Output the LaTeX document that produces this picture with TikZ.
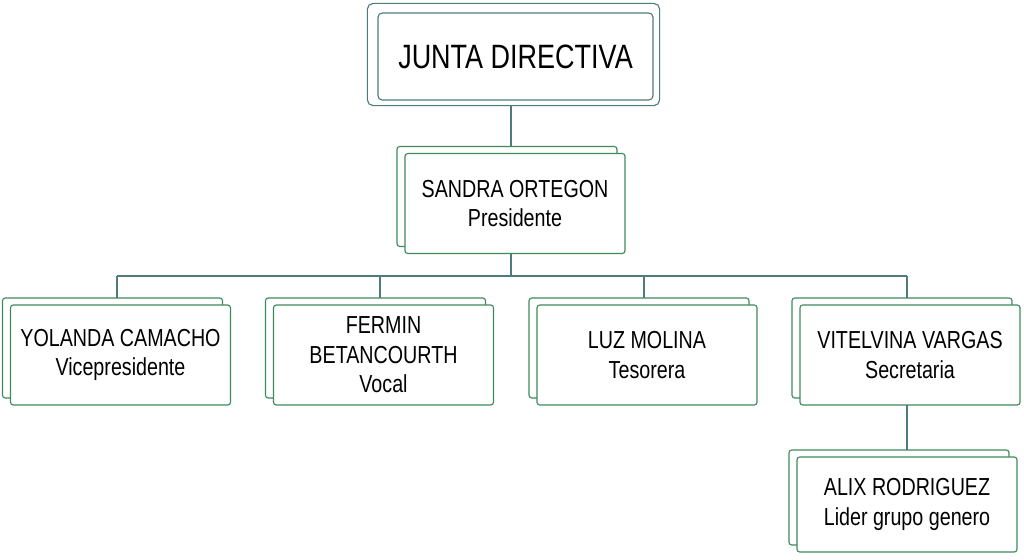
\documentclass[tikz,border=0pt]{standalone}
\usepackage{fontspec}
\setmainfont[FakeStretch=0.8]{Liberation Sans}
\usetikzlibrary{shadows,fit}
\definecolor{boardline}{HTML}{4E7B7E}
\definecolor{memberline}{HTML}{3F8A5C}
\tikzset{
  member/.style={draw=memberline, fill=white, rounded corners=2pt, thick,
    minimum width=5.5cm, minimum height=2.5cm, align=center, font=\fontsize{17.5}{21}\selectfont,
    copy shadow={shadow xshift=-0.2cm, shadow yshift=0.175cm, draw=memberline, fill=white, thick}},
  link/.style={draw=boardline, thick}
}
\begin{document}
\begin{tikzpicture}[x=0.025cm,y=-0.025cm]
    \useasboundingbox (0,0) rectangle (1024,559);

    % Junta directiva
    \node[draw=boardline, fill=white, rounded corners=3pt, thick, minimum width=6.875cm,
      minimum height=2.175cm, font=\fontsize{24}{28}\selectfont] (junta) at (515.5,56.5) {JUNTA DIRECTIVA};
    \node[draw=boardline, rounded corners=4pt, thick, fit=(junta), inner xsep=0.2cm, inner ysep=0.175cm,
      xshift=-0.05cm, yshift=0.05cm] (juntaframe) {};

    % Presidente
    \node[member] (sandra) at (515,203.5) {SANDRA ORTEGON\\Presidente};
    \coordinate (sandratop) at ([yshift=0.175cm]sandra.north);

    % Miembros
    \node[member] (yolanda) at (120.5,355) {YOLANDA CAMACHO\\Vicepresidente};
    \node[member] (fermin) at (383.5,355) {FERMIN\\BETANCOURTH\\Vocal};
    \node[member] (luz) at (647,355) {LUZ MOLINA\\Tesorera};
    \node[member] (vitelvina) at (910,355) {VITELVINA VARGAS\\Secretaria};
    \node[member, minimum height=2.375cm] (alix) at (907,504.5) {ALIX RODRIGUEZ\\Lider grupo genero};

    % Conectores
    \coordinate (bus) at (511,276);
    \draw[link] (juntaframe.south -| bus) -- (bus |- sandratop);
    \draw[link] (bus |- sandra.south) -- (bus);
    \draw[link] (117,276) -- (907,276);
    \foreach \n/\x in {yolanda/117, fermin/380, luz/644, vitelvina/907}
      \draw[link] (\x,276) -- (\x,298);
    \draw[link] (907,405) -- (907,450);
\end{tikzpicture}
\end{document}
